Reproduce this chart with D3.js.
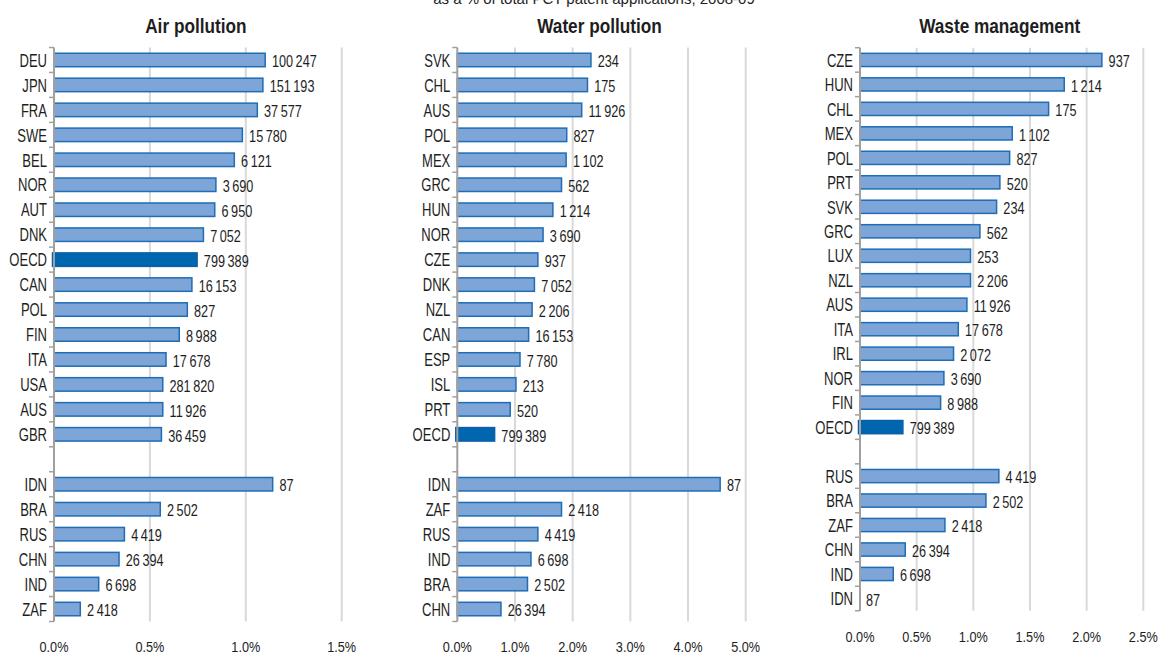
<!DOCTYPE html>
<html>
<head>
<meta charset="utf-8">
<script src="https://cdn.jsdelivr.net/npm/d3@7"></script>
<style>
  body { margin: 0; background: #ffffff; }
  svg { display: block; }
</style>
</head>
<body>
<svg id="chart" width="1159" height="655"></svg>
<script>
// ---- Data: share of environment-related patents, % of total PCT applications, 2008-09
// Air pollution
const airCountries = ["DEU", "JPN", "FRA", "SWE", "BEL", "NOR", "AUT", "DNK", "OECD", "CAN", "POL", "FIN", "ITA", "USA", "AUS", "GBR"];
const airShares    = [1.105, 1.093, 1.064, 0.986, 0.944, 0.848, 0.842, 0.783, 0.750, 0.723, 0.699, 0.657, 0.588, 0.571, 0.571, 0.564];
const airCounts    = [100247, 151193, 37577, 15780, 6121, 3690, 6950, 7052, 799389, 16153, 827, 8988, 17678, 281820, 11926, 36459];
const airPartners      = ["IDN", "BRA", "RUS", "CHN", "IND", "ZAF"];
const airPartnerShares = [1.144, 0.558, 0.371, 0.343, 0.237, 0.141];
const airPartnerCounts = [87, 2502, 4419, 26394, 6698, 2418];
const airTicks = [0, 0.5, 1.0, 1.5];

// Water pollution
const waterCountries = ["SVK", "CHL", "AUS", "POL", "MEX", "GRC", "HUN", "NOR", "CZE", "DNK", "NZL", "CAN", "ESP", "ISL", "PRT", "OECD"];
const waterShares    = [2.33, 2.27, 2.17, 1.91, 1.90, 1.82, 1.67, 1.50, 1.41, 1.35, 1.31, 1.25, 1.10, 1.03, 0.93, 0.66];
const waterCounts    = [234, 175, 11926, 827, 1102, 562, 1214, 3690, 937, 7052, 2206, 16153, 7780, 213, 520, 799389];
const waterPartners      = ["IDN", "ZAF", "RUS", "IND", "BRA", "CHN"];
const waterPartnerShares = [4.57, 1.82, 1.41, 1.29, 1.23, 0.77];
const waterPartnerCounts = [87, 2418, 4419, 6698, 2502, 26394];
const waterTicks = [0, 1, 2, 3, 4, 5];

// Waste management
const wasteCountries = ["CZE", "HUN", "CHL", "MEX", "POL", "PRT", "SVK", "GRC", "LUX", "NZL", "AUS", "ITA", "IRL", "NOR", "FIN", "OECD"];
const wasteShares    = [2.141, 1.809, 1.671, 1.35, 1.327, 1.241, 1.212, 1.065, 0.982, 0.982, 0.950, 0.874, 0.832, 0.747, 0.718, 0.385];
const wasteCounts    = [937, 1214, 175, 1102, 827, 520, 234, 562, 253, 2206, 11926, 17678, 2072, 3690, 8988, 799389];
const wastePartners      = ["RUS", "BRA", "ZAF", "CHN", "IND", "IDN"];
const wastePartnerShares = [1.232, 1.118, 0.756, 0.406, 0.300, 0];
const wastePartnerCounts = [4419, 2502, 2418, 26394, 6698, 87];
const wasteTicks = [0, 0.5, 1.0, 1.5, 2.0, 2.5];

const subtitle = "as a % of total PCT patent applications, 2008-09";

// ---- Layout of the three panels
const panels = [
  { title: "Air pollution", countries: airCountries, shares: airShares, counts: airCounts,
    partners: airPartners, partnerShares: airPartnerShares, partnerCounts: airPartnerCounts,
    ticks: airTicks, left: 54, right: 341.7, top: 47.5, bottom: 621.5 },
  { title: "Water pollution", countries: waterCountries, shares: waterShares, counts: waterCounts,
    partners: waterPartners, partnerShares: waterPartnerShares, partnerCounts: waterPartnerCounts,
    ticks: waterTicks, left: 457.3, right: 745.7, top: 47.5, bottom: 621.5 },
  { title: "Waste management", countries: wasteCountries, shares: wasteShares, counts: wasteCounts,
    partners: wastePartners, partnerShares: wastePartnerShares, partnerCounts: wastePartnerCounts,
    ticks: wasteTicks, left: 860, right: 1143.3, top: 47.7, bottom: 610.7 }
];

const COLORS = {
  bar: "#7ea5d8", barStroke: "#1e6db5",
  oecd: "#0066b0", oecdStroke: "#0b5fa8",
  grid: "#d9d9d9", axis: "#a0a0a0", text: "#1e1e1e"
};

const svg = d3.select("#chart");

// Pick a condensed face; fall back to a horizontally squeezed regular face.
function widthOf(family) {
  const t = svg.append("text").style("font-family", family).style("font-size", "40px").text("DEU OECD 100 247");
  const w = t.node().getComputedTextLength();
  t.remove();
  return w;
}
const narrowOK = Math.abs(widthOf('"Liberation Sans Narrow", monospace') - widthOf("monospace")) > 1;
const FONT = narrowOK ? '"Liberation Sans Narrow", "Arial Narrow", sans-serif' : '"Liberation Sans", Arial, sans-serif';
const BASE_SX = narrowOK ? 1 : 0.82;
// labels are drawn a little taller than wide
const SX = BASE_SX * 0.91;

function put(g, x, y, str, size, anchor, weight, sx) {
  return g.append("text")
    .attr("transform", `translate(${x},${y}) scale(${sx == null ? SX : sx},1)`)
    .attr("text-anchor", anchor || "start")
    .attr("dominant-baseline", "central")
    .style("font-family", FONT)
    .style("font-size", size + "px")
    .style("font-weight", weight || "normal")
    .style("fill", COLORS.text)
    .text(str);
}

const fmtCount = d3.formatLocale({ decimal: ".", thousands: "\u2009", grouping: [3], currency: ["", ""] }).format(",d");
const fmtTick = d => d3.format(".1f")(d) + "%";

// Subtitle, running off the top edge
svg.append("text")
  .attr("x", 594).attr("y", 3.5)
  .attr("text-anchor", "middle")
  .style("font-family", '"Liberation Sans", Arial, sans-serif')
  .style("font-size", "15px")
  .style("fill", COLORS.text)
  .text(subtitle);

panels.forEach(p => {
  const g = svg.append("g");
  const rows = p.countries.map((c, i) => ({ key: c, share: p.shares[i], count: p.counts[i] }))
    .concat([{ key: "__gap" }])
    .concat(p.partners.map((c, i) => ({ key: c, share: p.partnerShares[i], count: p.partnerCounts[i] })));

  const x = d3.scaleLinear()
    .domain([0, d3.max(p.ticks)])
    .range([p.left, p.right]);

  const y = d3.scaleBand()
    .domain(rows.map(r => r.key))
    .range([p.top, p.bottom])
    .paddingInner(0.4)
    .paddingOuter(0.2);

  // vertical gridlines
  g.selectAll("line.grid")
    .data(p.ticks.filter(t => t > 0))
    .join("line")
    .attr("class", "grid")
    .attr("x1", d => x(d)).attr("x2", d => x(d))
    .attr("y1", p.top).attr("y2", p.bottom)
    .attr("stroke", COLORS.grid).attr("stroke-width", 2);

  // x tick labels
  p.ticks.forEach(t => put(g, x(t), p.bottom + 25.5, fmtTick(t), 15.5, "middle", "normal", BASE_SX));

  // bars
  const data = rows.filter(r => r.key !== "__gap");
  g.selectAll("rect.bar")
    .data(data)
    .join("rect")
    .attr("class", "bar")
    .attr("x", d => d.key === "OECD" ? x(0) - 1.5 : x(0))
    .attr("y", d => y(d.key) + 0.75)
    .attr("width", d => Math.max(0, x(d.share) - x(0) - 0.75) + (d.key === "OECD" ? 1.5 : 0))
    .attr("height", y.bandwidth() - 1.5)
    .attr("fill", d => d.key === "OECD" ? COLORS.oecd : COLORS.bar)
    .attr("stroke", d => d.share > 0 ? (d.key === "OECD" ? COLORS.oecdStroke : COLORS.barStroke) : "none")
    .attr("stroke-width", 1.5);

  // y axis line with ticks at band boundaries
  g.append("line")
    .attr("x1", x(0)).attr("x2", x(0))
    .attr("y1", p.top).attr("y2", p.bottom)
    .attr("stroke", COLORS.axis).attr("stroke-width", 2);
  const step = y.step();
  const bounds = d3.range(rows.length + 1).map(i => p.top + i * step);
  g.selectAll("line.ytick")
    .data(bounds)
    .join("line")
    .attr("class", "ytick")
    .attr("x1", x(0) - 5).attr("x2", x(0))
    .attr("y1", d => d).attr("y2", d => d)
    .attr("stroke", COLORS.axis).attr("stroke-width", 1.5);

  // category labels
  data.forEach(d => put(g, x(0) - 7, y(d.key) + y.bandwidth() / 2 + 0.5, d.key, 17.5, "end"));

  // patent counts next to bars
  data.forEach(d => put(g, x(d.share) + 6, y(d.key) + y.bandwidth() / 2 + 1, fmtCount(d.count), 17, "start"));

  // panel title
  put(g, (p.left + p.right) / 2 - 2, 25.5, p.title, 21, "middle", "bold", BASE_SX);
});
</script>
</body>
</html>
